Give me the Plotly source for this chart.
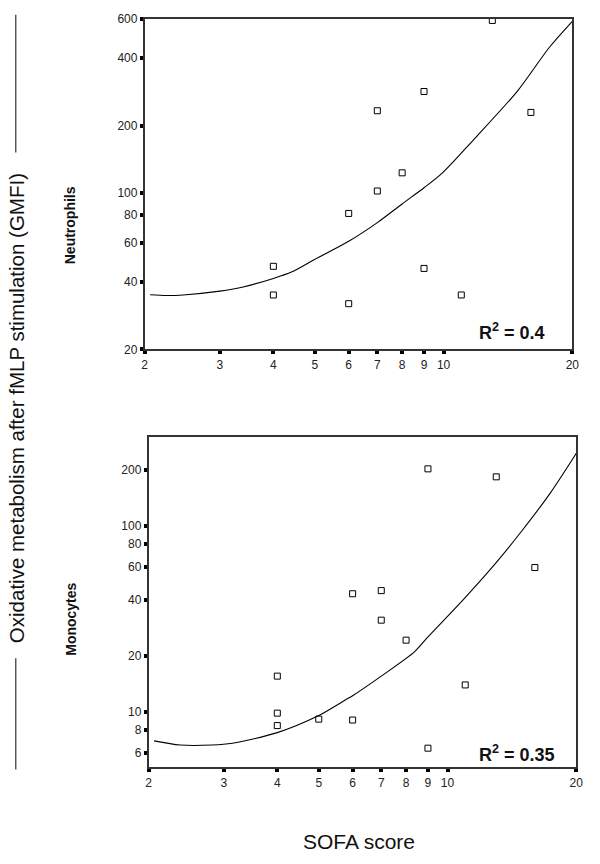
import plotly.graph_objects as go
import math

# ---- data ----
sofa_ticks = [2, 3, 4, 5, 6, 7, 8, 9, 10, 20]
neut_yticks = [20, 40, 60, 80, 100, 200, 400, 600]
mono_yticks = [6, 8, 10, 20, 40, 60, 80, 100, 200]

neut_sofa = [4, 4, 6, 6, 7, 7, 8, 9, 9, 11, 13, 16]
neut_gmfi = [47, 35, 81, 32, 233, 102, 123, 284, 46, 35, 590, 229]

neut_fit_x = [2.06, 2.25, 2.46, 3.0, 3.38, 4.0, 4.41, 4.98, 6.0, 7.0, 8.0, 9.0, 9.94, 11.85, 14.9, 17.7, 20.0]
neut_fit_y = [35.1, 34.8, 35.0, 36.4, 37.9, 41.5, 44.3, 50.3, 60.8, 73.7, 89.3, 105.5, 123, 176, 286, 449, 585]

mono_sofa = [4, 4, 4, 5, 6, 6, 7, 7, 8, 9, 9, 11, 13, 16]
mono_gmfi = [15.5, 9.8, 8.4, 9.1, 43.0, 9.0, 44.7, 31.0, 24.2, 202, 6.35, 13.9, 183, 59.5]

mono_fit_x = [2.06, 2.37, 2.82, 3.14, 4.0, 5.0, 5.83, 6.0, 7.0, 8.38, 9.0, 10.82, 12.86, 14.85, 17.4, 20.0]
mono_fit_y = [6.95, 6.6, 6.6, 6.75, 7.7, 9.51, 11.7, 12.16, 15.5, 21.0, 25.2, 39.4, 61.5, 92.4, 150, 245]

neut_r2 = "R<sup>2</sup> = 0.4"
mono_r2 = "R<sup>2</sup> = 0.35"

FONT = "Liberation Sans, Arial, sans-serif"
W, H = 600, 864

fig = go.Figure()

marker = dict(symbol="square-open", size=6, color="black", line=dict(width=1, color="black"))
fit_line = dict(color="black", width=1.1, shape="spline", smoothing=0.8)

fig.add_trace(go.Scatter(x=neut_fit_x, y=neut_fit_y, mode="lines", line=fit_line,
                         xaxis="x", yaxis="y", showlegend=False, hoverinfo="skip"))
fig.add_trace(go.Scatter(x=neut_sofa, y=neut_gmfi, mode="markers", marker=marker,
                         xaxis="x", yaxis="y", showlegend=False))
fig.add_trace(go.Scatter(x=mono_fit_x, y=mono_fit_y, mode="lines", line=fit_line,
                         xaxis="x2", yaxis="y2", showlegend=False, hoverinfo="skip"))
fig.add_trace(go.Scatter(x=mono_sofa, y=mono_gmfi, mode="markers", marker=marker,
                         xaxis="x2", yaxis="y2", showlegend=False))

def px_x(v):
    return v / W

def px_y(v):
    return 1 - v / H

axis_common = dict(
    type="log", showline=True, mirror=True, linecolor="#333", linewidth=1.5,
    ticks="outside", ticklen=3, tickwidth=4, tickcolor="black",
    showgrid=False, zeroline=False,
    tickfont=dict(family=FONT, size=12, color="#222"),
)

fig.update_layout(
    width=W, height=H,
    margin=dict(l=0, r=0, t=0, b=0),
    paper_bgcolor="white", plot_bgcolor="white",
    xaxis=dict(**axis_common, domain=[px_x(144), px_x(579)], anchor="y",
               range=[math.log10(2), math.log10(20)],
               tickvals=sofa_ticks, ticktext=[str(v) for v in sofa_ticks]),
    yaxis=dict(**axis_common, domain=[px_y(348), px_y(12)], anchor="x",
               range=[math.log10(20), math.log10(600)],
               tickvals=neut_yticks, ticktext=[str(v) for v in neut_yticks]),
    xaxis2=dict(**axis_common, domain=[px_x(148), px_x(583)], anchor="y2",
                range=[math.log10(2), math.log10(20)],
                tickvals=sofa_ticks, ticktext=[str(v) for v in sofa_ticks]),
    yaxis2=dict(**axis_common, domain=[px_y(773), px_y(437)], anchor="x2",
                range=[math.log10(5), math.log10(300)],
                tickvals=mono_yticks, ticktext=[str(v) for v in mono_yticks]),
)

annotations = [
    dict(text="Oxidative metabolism after fMLP stimulation (GMFI)", x=px_x(14), y=px_y(408),
         xref="paper", yref="paper", textangle=-90, showarrow=False,
         font=dict(family=FONT, size=20.5, color="#111"), xanchor="center", yanchor="middle"),
    dict(text="<b>Neutrophils</b>", x=px_x(69), y=px_y(222), xref="paper", yref="paper",
         textangle=-90, showarrow=False, font=dict(family=FONT, size=14, color="#111"),
         xanchor="center", yanchor="middle"),
    dict(text="<b>Monocytes</b>", x=px_x(69), y=px_y(622), xref="paper", yref="paper",
         textangle=-90, showarrow=False, font=dict(family=FONT, size=14, color="#111"),
         xanchor="center", yanchor="middle"),
    dict(text="SOFA score", x=px_x(362), y=px_y(848), xref="paper", yref="paper",
         showarrow=False, font=dict(family=FONT, size=21, color="#111"),
         xanchor="center", yanchor="middle"),
    dict(text="<b>" + neut_r2 + "</b>", x=px_x(553), y=px_y(330), xref="paper", yref="paper",
         showarrow=False, font=dict(family=FONT, size=18, color="#111"),
         xanchor="right", yanchor="middle"),
    dict(text="<b>" + mono_r2 + "</b>", x=px_x(563), y=px_y(759), xref="paper", yref="paper",
         showarrow=False, font=dict(family=FONT, size=18, color="#111"),
         xanchor="right", yanchor="middle"),
]
fig.update_layout(annotations=annotations)

fig.update_layout(shapes=[
    dict(type="line", xref="paper", yref="paper", x0=px_x(13), x1=px_x(13),
         y0=px_y(8), y1=px_y(148), line=dict(color="#333", width=1.2)),
    dict(type="line", xref="paper", yref="paper", x0=px_x(13), x1=px_x(13),
         y0=px_y(662), y1=px_y(775), line=dict(color="#333", width=1.2)),
])

fig.write_html("out.html",
               config={"displayModeBar": False},
               post_script="document.body.style.margin='0';document.body.style.overflow='hidden';")
